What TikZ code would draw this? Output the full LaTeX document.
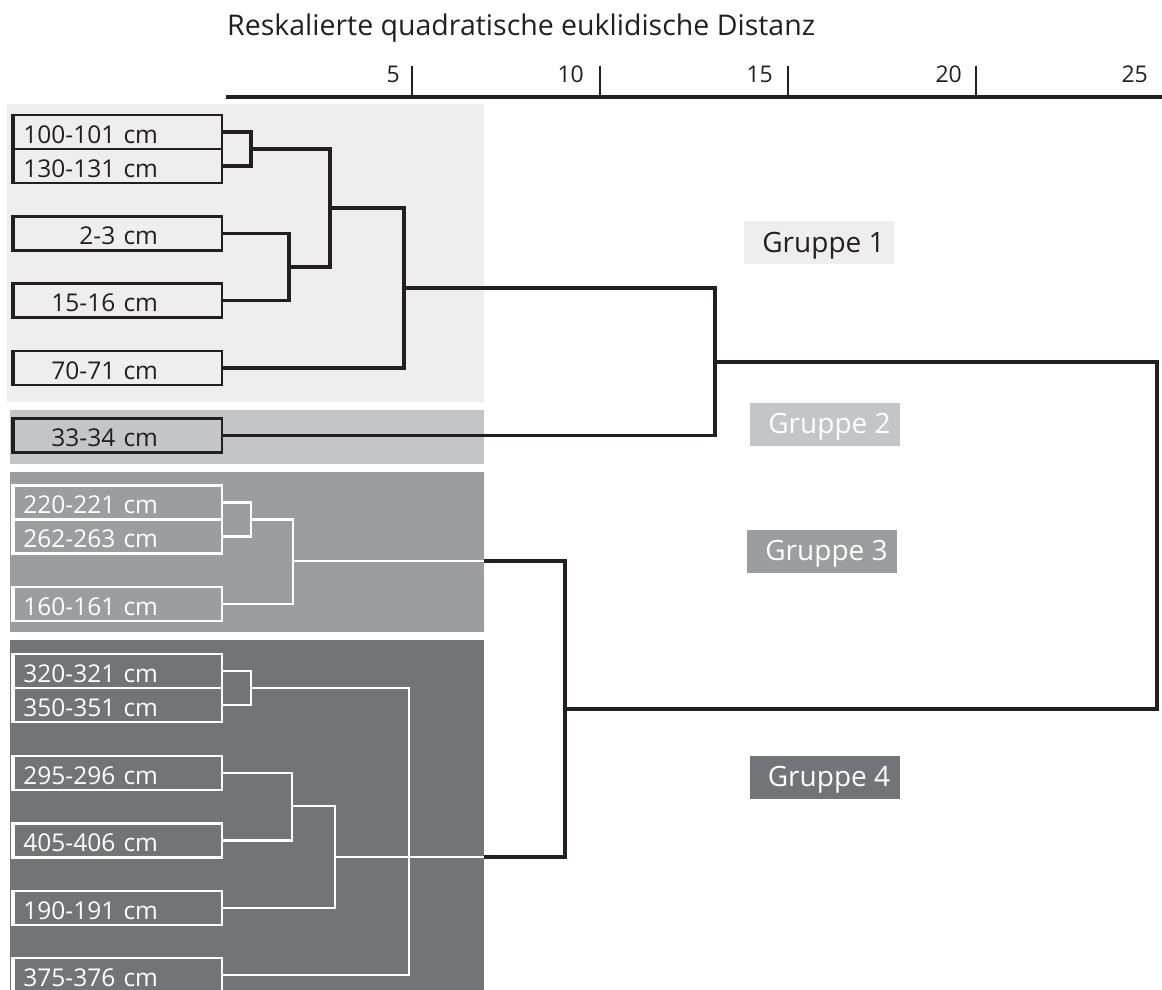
\documentclass[tikz,border=0pt]{standalone}
\usepackage{fontspec}
\setmainfont{Open Sans}
\definecolor{gA}{HTML}{EEEEEE}
\definecolor{gB}{HTML}{C4C5C8}
\definecolor{gC}{HTML}{9C9DA0}
\definecolor{gD}{HTML}{737478}
\definecolor{ink}{HTML}{231F20}
\begin{document}
\begin{tikzpicture}[x=1pt,y=-1pt,
  leaf/.style={draw=ink, line width=2.2pt, minimum width=208pt, minimum height=34pt,
    inner sep=0pt, text width=208pt, align=right, text height=22pt, text depth=0pt,
    font=\fontsize{24.5}{28}\selectfont, text=ink},
  leafw/.style={leaf, draw=white, text=white},
  blk/.style={draw=ink, line width=3.3pt},
  wht/.style={draw=white, line width=2.7pt},
  grp/.style={minimum width=150pt, minimum height=43pt, inner sep=0pt,
    text height=19pt, text depth=0pt, font=\fontsize{28}{32}\selectfont},
  ticklabel/.style={anchor=base east, inner sep=0pt, font=\fontsize{23}{27}\selectfont, text=ink},
  tickmark/.style={draw=ink, line width=2.8pt},
]
\useasboundingbox (0,0) rectangle (1162,990);

% group backgrounds
\fill[gA] (7,104) rectangle (484,402);
\fill[gB] (10,410) rectangle (484,464);
\fill[gC] (10,472) rectangle (484,632);
\fill[gD] (10,640) rectangle (484,990);

% title and axis
\node[anchor=base west, inner sep=0pt, font=\fontsize{28.5}{34}\selectfont, text=ink] (title) at (227,36) {Reskalierte quadratische euklidische Distanz};
\coordinate (axL) at (226,97);
\coordinate (axR) at (1162,97);
\draw[ink, line width=4pt] (axL) -- (axR);
\foreach \x/\l/\e in {412/5/400, 600/10/584, 788/15/773, 976/20/962} {
  \draw[tickmark] (\x,66) -- (\x,97);
  \node[ticklabel] at (\e,83) {\l};
}
\node[ticklabel] (t25) at (1148,83) {25};

% leaves
\node[leaf] (L100) at (118,132) {100-101 cm\hspace*{64pt}};
\node[leaf] (L130) at (118,166) {130-131 cm\hspace*{64pt}};
\node[leaf] (L2)   at (118,233.5) {2-3 cm\hspace*{64pt}};
\node[leaf] (L15)  at (118,300.5) {15-16 cm\hspace*{64pt}};
\node[leaf] (L70)  at (118,368) {70-71 cm\hspace*{64pt}};
\node[leaf] (L33)  at (118,435.5) {33-34 cm\hspace*{64pt}};
\node[leafw] (L220) at (118,502.5) {220-221 cm\hspace*{64pt}};
\node[leafw] (L262) at (118,536.5) {262-263 cm\hspace*{64pt}};
\node[leafw] (L160) at (118,604) {160-161 cm\hspace*{64pt}};
\node[leafw] (L320) at (118,671) {320-321 cm\hspace*{64pt}};
\node[leafw] (L350) at (118,705) {350-351 cm\hspace*{64pt}};
\node[leafw] (L295) at (118,773) {295-296 cm\hspace*{64pt}};
\node[leafw] (L405) at (118,840.5) {405-406 cm\hspace*{64pt}};
\node[leafw] (L190) at (118,908) {190-191 cm\hspace*{64pt}};
\node[leafw] (L375) at (118,975) {375-376 cm\hspace*{64pt}};

\foreach \n in {L100,L130,L2,L15,L70,L33}
  \draw[ink, line width=1.6pt] ([xshift=-1pt]\n.north west) -- ([xshift=-1pt]\n.south west);
\foreach \n in {L220,L262,L160,L320,L350,L295,L405,L190,L375}
  \draw[white, line width=1.6pt] ([xshift=-1pt]\n.north west) -- ([xshift=-1pt]\n.south west);

% group labels
\node[grp, fill=gA, text=ink]   (G1) at (819,242.5) {\hspace*{9pt}Gruppe 1};
\node[grp, fill=gB, text=white] (G2) at (825,424) {\hspace*{9pt}Gruppe 2};
\node[grp, fill=gC, text=white] (G3) at (822,551) {\hspace*{9pt}Gruppe 3};
\node[grp, fill=gD, text=white] (G4) at (824.5,777) {\hspace*{9pt}Gruppe 4};

% join points
\coordinate (j1) at (251,149);
\coordinate (j2) at (289,267);
\coordinate (j3) at (330,208);
\coordinate (j4) at (404,288);
\coordinate (j5) at (715,362);
\coordinate (j6) at (251,519.5);
\coordinate (j7) at (293,561);
\coordinate (g3out) at (484,561);
\coordinate (j8) at (251,688);
\coordinate (j9) at (292,806);
\coordinate (j10) at (335,857);
\coordinate (j11) at (409,831);
\coordinate (g4out) at (484,857);
\coordinate (j12) at (565,709);
\coordinate (j13) at (1157,535.5);

% white connectors
\draw[wht] (L220.east) -| (j6) |- (L262.east);
\draw[wht] (j6) -| (j7) |- (L160.east);
\draw[wht] (j7) -- (g3out);
\draw[wht] (L320.east) -| (j8) |- (L350.east);
\draw[wht] (L295.east) -| (j9) |- (L405.east);
\draw[wht] (j9) -| (j10) |- (L190.east);
\draw[wht] (j8) -| (j11) |- (L375.east);
\draw[wht] (j10) -- (g4out);

% black connectors
\draw[blk] (L100.east) -| (j1) |- (L130.east);
\draw[blk] (L2.east) -| (j2) |- (L15.east);
\draw[blk] (j1) -| (j3) |- (j2);
\draw[blk] (j3) -| (j4) |- (L70.east);
\draw[blk] (j4) -| (j5) |- (L33.east);
\draw[blk] (j5) -| (j13) |- (j12);
\draw[blk] (g3out) -| (j12) |- (g4out);
\end{tikzpicture}
\end{document}
